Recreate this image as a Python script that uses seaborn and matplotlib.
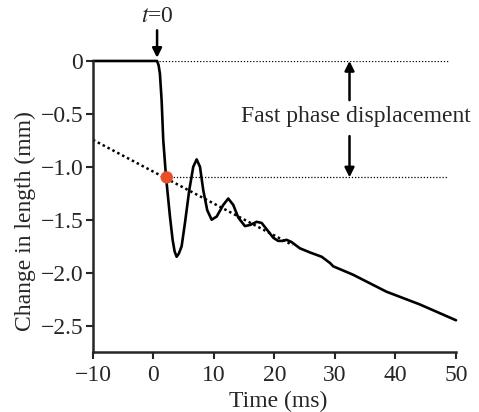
import numpy as np
import pandas as pd
import matplotlib
matplotlib.use("Agg")
import matplotlib.pyplot as plt
import seaborn as sns

# -------------------------
# Data
# -------------------------

time_ms = [-10, 0.0, 0.6, 0.85, 1.07, 1.35, 1.62, 2.07, 2.73, 3.17, 3.5, 3.83, 4.2,
           4.66, 5.21, 5.92, 6.58, 7.14, 7.69, 8.23, 8.89, 9.62, 10.45, 11.54,
           12.36, 13.19, 14.02, 15.12, 15.95, 17.06, 17.88, 18.98, 19.8, 20.6,
           21.4, 22.0, 22.8, 24.2, 25.9, 27.8, 29.2, 29.7, 33.0, 38.5, 44.0, 50.0]
length_mm = [0, 0, 0, -0.04, -0.12, -0.37, -0.745, -1.09, -1.47, -1.69, -1.80,
             -1.85, -1.82, -1.75, -1.53, -1.22, -1.00, -0.93, -1.00, -1.22, -1.41,
             -1.50, -1.47, -1.36, -1.30, -1.36, -1.48, -1.56, -1.55, -1.52, -1.53,
             -1.61, -1.67, -1.70, -1.70, -1.69, -1.71, -1.77, -1.81, -1.85, -1.91,
             -1.94, -2.02, -2.18, -2.30, -2.45]

fit_time = [-10, 23]
fit_length = [-0.745, -1.74]

dot_time = [2.2]
dot_length = [-1.1]

fast_top = 0.0
fast_bottom = -1.1

df = pd.DataFrame({"time": time_ms, "length": length_mm})
fit = pd.DataFrame({"time": fit_time, "length": fit_length})

# -------------------------
# Style
# -------------------------

sns.set_style("ticks")
plt.rcParams["font.family"] = ["Liberation Serif", "DejaVu Serif"]
plt.rcParams["mathtext.fontset"] = "stix"
FS = 17

fig = plt.figure(figsize=(4.79, 4.12), dpi=100)
ax = fig.add_axes([0.194, 0.1456, 0.758, 0.7064])

sns.lineplot(data=df, x="time", y="length", ax=ax, color="black", linewidth=1.9,
             clip_on=False, solid_joinstyle="round", solid_capstyle="round")
sns.lineplot(data=fit, x="time", y="length", ax=ax, color="black", linewidth=1.8,
             linestyle=(0, (1, 1.2)))

# horizontal dotted guides
ax.plot([0.9, 48.7], [fast_top, fast_top], color="black", linewidth=0.9,
        linestyle=(0, (1, 1.5)))
ax.plot([dot_time[0], 48.7], [fast_bottom, fast_bottom], color="black",
        linewidth=0.9, linestyle=(0, (1, 1.5)))

sns.scatterplot(x=dot_time, y=dot_length, ax=ax, color="#E8502A", s=80,
                edgecolor="none", zorder=5)

# fast phase arrows + label
arrow_kw = dict(arrowstyle="-|>", color="black", lw=1.8, mutation_scale=14,
                shrinkA=0, shrinkB=0)
ax.annotate("", xy=(32.4, fast_top), xytext=(32.4, -0.37), arrowprops=arrow_kw)
ax.annotate("", xy=(32.4, fast_bottom), xytext=(32.4, -0.71), arrowprops=arrow_kw)
ax.text(33.5, -0.52, "Fast phase displacement", ha="center", va="center",
        fontsize=FS, clip_on=False)

# t=0 marker
ax.annotate("", xy=(0.6, 0.03), xytext=(0.6, 0.29), arrowprops=arrow_kw,
            annotation_clip=False)
ax.text(0.6, 0.42, r"$t$=0", ha="center", va="center", fontsize=FS)

ax.set_xlim(-10, 50)
ax.set_ylim(-2.75, 0)
ax.set_xticks([-10, 0, 10, 20, 30, 40, 50])
ax.set_yticks([0, -0.5, -1.0, -1.5, -2.0, -2.5])
ax.set_yticklabels(["0", "\u22120.5", "\u22121.0", "\u22121.5", "\u22122.0", "\u22122.5"])
ax.set_xticklabels(["\u221210", "0", "10", "20", "30", "40", "50"])
ax.set_xlabel("Time (ms)", fontsize=FS)
ax.set_ylabel("Change in length (mm)", fontsize=FS)
ax.xaxis.set_label_coords(0.511, -0.132)
ax.yaxis.set_label_coords(-0.158, 0.45)

sns.despine(ax=ax)
for s in ["left", "bottom"]:
    ax.spines[s].set_linewidth(1.8)
ax.tick_params(width=1.5, length=5, labelsize=FS, direction="out", pad=2)
ax.tick_params(axis="x", pad=4)

fig.savefig("out.png", dpi=100)
